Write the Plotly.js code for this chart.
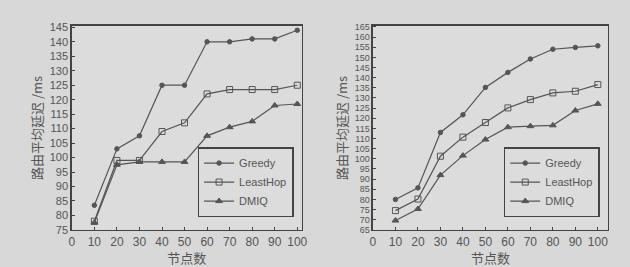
<!DOCTYPE html>
<html><head><meta charset="utf-8">
<script src="https://cdn.plot.ly/plotly-3.0.1.min.js"></script>
<style>html,body{margin:0;padding:0;background:#d8d8d8;}</style>
</head><body>
<div id="chart" style="width:630px;height:267px;"></div>
<script>
const nodes = [10,20,30,40,50,60,70,80,90,100];
const leftGreedy   = [83.5,103,107.5,125,125,140,140,141,141,144];
const leftLeastHop = [78,99,99,109,112,122,123.5,123.5,123.5,125];
const leftDMIQ     = [77.5,97.5,98.5,98.5,98.5,107.5,110.5,112.5,118,118.5];
const rightGreedy   = [80,85.7,113,121.7,135.2,142.6,149.2,154,154.9,155.7];
const rightLeastHop = [74.5,80.2,101.3,110.7,117.9,125.1,129.2,132.5,133.3,136.6];
const rightDMIQ     = [69.6,75.3,92,101.6,109.5,115.6,116.1,116.5,123.8,127.1];
const seriesNames = ['Greedy','LeastHop','DMIQ'];
const xTicks = [0,10,20,30,40,50,60,70,80,90,100];
const leftYTicks = [75,80,85,90,95,100,105,110,115,120,125,130,135,140,145];
const rightYTicks = [65,70,75,80,85,90,95,100,105,110,115,120,125,130,135,140,145,150,155,160,165];
const xTitle = '节点数';
const yTitle = '路由平均延迟 /ms';

const lineColor = '#555555';
const symbols = ['circle','square-open','triangle-up'];
const sizes = [4.5,6,6];
function mk(y, i, xa, ya, lg){
  return {x:nodes, y:y, name:seriesNames[i], xaxis:xa, yaxis:ya, legend:lg,
    mode:'lines+markers', line:{color:lineColor,width:1.2},
    marker:{symbol:symbols[i], size:sizes[i], color:lineColor, line:{color:lineColor,width:1}}};
}
const traces = [
  mk(leftGreedy,0,'x','y','legend'), mk(leftLeastHop,1,'x','y','legend'), mk(leftDMIQ,2,'x','y','legend'),
  mk(rightGreedy,0,'x2','y2','legend2'), mk(rightLeastHop,1,'x2','y2','legend2'), mk(rightDMIQ,2,'x2','y2','legend2')
];
const fontF = 'Liberation Sans, Arial, sans-serif';
const cjk = 'Noto Sans CJK SC, sans-serif';
function xa(dom, rmax){
  return {domain:dom, range:[0,rmax], tickvals:xTicks, ticks:'inside', ticklen:3, tickcolor:'#444',
    showline:true, mirror:true, linecolor:'#444', linewidth:1.5, showgrid:false, zeroline:false,
    tickfont:{family:fontF,size:12,color:'#555'},
    title:{text:xTitle, font:{family:cjk,size:13,color:'#555'}, standoff:4}};
}
function ya(dom, r, tv, fs, anchor){
  return {domain:dom, range:r, tickvals:tv, ticks:'inside', ticklen:3, tickcolor:'#444', anchor:anchor,
    showline:true, mirror:true, linecolor:'#444', linewidth:1.5, showgrid:false, zeroline:false,
    tickfont:{family:fontF,size:fs,color:'#555'},
    title:{text:yTitle, font:{family:cjk,size:13,color:'#555'}, standoff:4}};
}
const yDom = [0.139,0.903];
const legStyle = {bgcolor:'#dcdcdc', bordercolor:'#444', borderwidth:1.5,
  font:{family:fontF,size:11,color:'#555'}, tracegroupgap:0, itemwidth:30};
const layout = {
  width:630, height:267, margin:{l:0,r:0,t:0,b:0},
  paper_bgcolor:'#d8d8d8', plot_bgcolor:'#dcdcdc', showlegend:true,
  xaxis: xa([0.114,0.479],102), yaxis: ya(yDom,[75,145.5],leftYTicks,11,'x'),
  xaxis2: xa([0.592,0.965],104.5), yaxis2: ya(yDom,[65,165.5],rightYTicks,9,'x2'),
  legend: Object.assign({x:0.466, y:0.187, xanchor:'right', yanchor:'bottom'}, legStyle),
  legend2: Object.assign({x:0.952, y:0.187, xanchor:'right', yanchor:'bottom'}, legStyle)
};
Plotly.newPlot('chart', traces, layout, {displayModeBar:false, staticPlot:true});
</script>
</body></html>
